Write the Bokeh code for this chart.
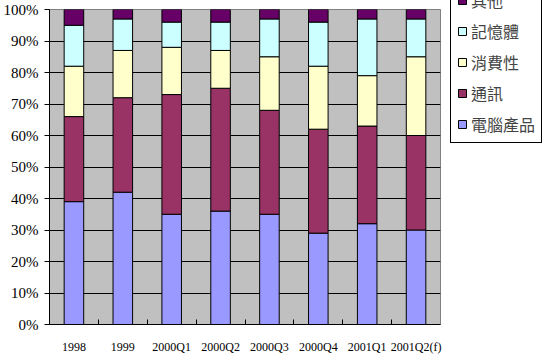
from bokeh.plotting import figure
from bokeh.models import (ColumnDataSource, FixedTicker, NumeralTickFormatter,
                          Legend, LegendItem, Range1d)
from bokeh.embed import file_html
from bokeh.resources import INLINE

categories = ["1998", "1999", "2000Q1", "2000Q2", "2000Q3", "2000Q4", "2001Q1", "2001Q2(f)"]
series_names = ["電腦產品", "通訊", "消費性", "記憶體", "其他"]
computer = [39, 42, 35, 36, 35, 29, 32, 30]
comm = [27, 30, 38, 39, 33, 33, 31, 30]
consumer = [16, 15, 15, 12, 17, 20, 16, 25]
memory = [13, 10, 8, 9, 12, 14, 18, 12]
other = [5, 3, 4, 4, 3, 4, 3, 3]
colors = ["#9999FF", "#993366", "#FFFFCC", "#CCFFFF", "#660066"]

series = [computer, comm, consumer, memory, other]
keys = ["s%d" % i for i in range(len(series))]
xs = list(range(1, len(categories) + 1))
data = {"x": xs}
for k, s in zip(keys, series):
    data[k] = [v / 100 for v in s]
src = ColumnDataSource(data)

p = figure(width=534, height=339, frame_width=391, frame_height=315,
           output_backend="svg", toolbar_location=None,
           x_range=Range1d(0.5, len(categories) + 0.5), y_range=Range1d(0, 1),
           min_border_left=48, min_border_top=9, min_border_bottom=5, min_border_right=0)
p.background_fill_color = "#C0C0C0"
p.border_fill_color = "white"
p.outline_line_color = "#808080"

renderers = p.vbar_stack(keys, x="x", width=0.4, source=src,
                         fill_color=colors, line_color="black", line_width=1)

# axes
p.xgrid.grid_line_color = None
p.ygrid.grid_line_color = "black"
p.ygrid.grid_line_width = 1
p.ygrid.ticker = FixedTicker(ticks=[i / 10 for i in range(11)])

p.yaxis.ticker = FixedTicker(ticks=[i / 10 for i in range(11)])
p.yaxis.formatter = NumeralTickFormatter(format="0%")
p.yaxis.major_label_text_font = "Liberation Serif"
p.yaxis.major_label_text_font_size = "15px"
p.yaxis.major_label_text_color = "black"
p.yaxis.major_tick_out = 5
p.yaxis.major_tick_in = 0
p.yaxis.minor_tick_line_color = None
p.yaxis.major_label_standoff = 6
p.yaxis.axis_line_color = "black"

p.xaxis.ticker = FixedTicker(ticks=xs, minor_ticks=[x + 0.5 for x in xs[:-1]])
p.xaxis.major_label_overrides = {x: c for x, c in zip(xs, categories)}
p.xaxis.major_label_text_font = "Liberation Serif"
p.xaxis.major_label_text_font_size = "12px"
p.xaxis.major_label_text_color = "black"
p.xaxis.major_tick_line_color = None
p.xaxis.minor_tick_in = 5
p.xaxis.minor_tick_out = 0
p.xaxis.minor_tick_line_color = "black"
p.xaxis.major_label_standoff = 9
p.xaxis.axis_line_color = "black"

items = [LegendItem(label=n, renderers=[r]) for n, r in zip(series_names, renderers)][::-1]
legend = Legend(items=items, location=(10, 181))
legend.label_text_font = "Noto Sans CJK TC"
legend.label_text_font_size = "16px"
legend.glyph_width = 10
legend.glyph_height = 10
legend.label_height = 20
legend.spacing = 7
legend.padding = 6
legend.margin = 0
legend.label_standoff = 4
legend.border_line_color = "black"
legend.border_line_width = 1
legend.border_line_alpha = 1
legend.background_fill_color = "white"
legend.background_fill_alpha = 1
p.add_layout(legend, "right")

open("out.html", "w").write(file_html(p, INLINE))
